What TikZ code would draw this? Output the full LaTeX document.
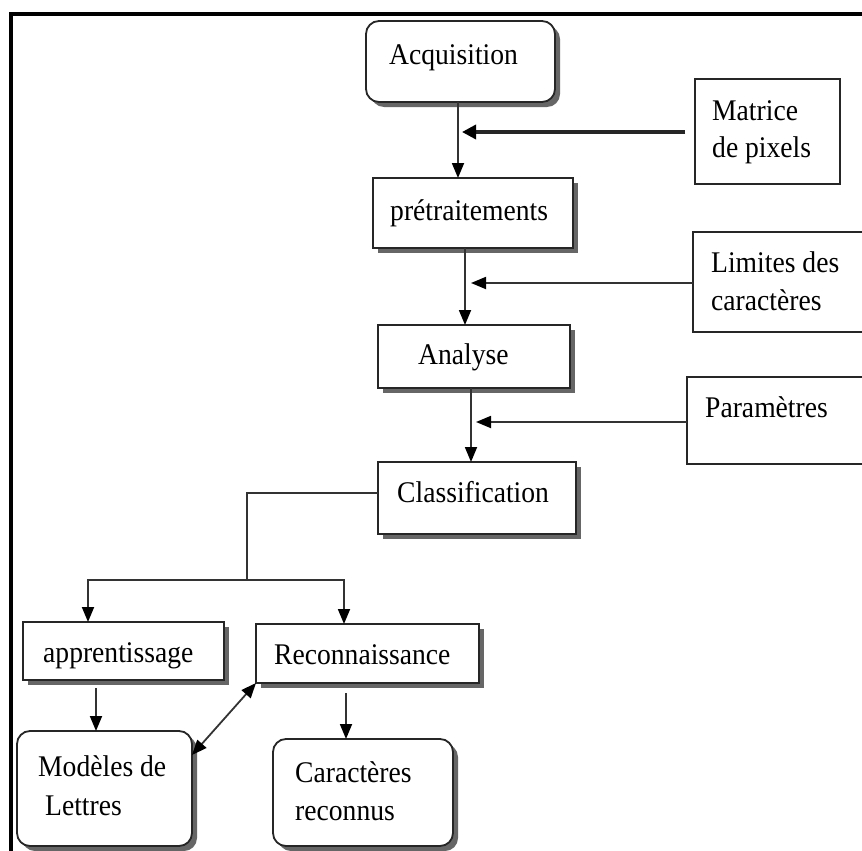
\documentclass[tikz,border=0pt]{standalone}
\usepackage{fontspec}
\setmainfont{Liberation Serif}[FakeStretch=0.92]
\usetikzlibrary{arrows.meta,shadows}
\begin{document}
\begin{tikzpicture}[x=1pt,y=-1pt,
  box/.style={draw=black!85, line width=1.8pt, fill=white, inner sep=0pt, outer sep=0pt},
  sbox/.style={box, drop shadow={shadow xshift=5pt, shadow yshift=-5pt, fill=black!60, opacity=1}},
  rbox/.style={sbox, rounded corners=13pt},
  txt/.style={anchor=base west, inner sep=0pt, font=\fontsize{30}{38}\selectfont},
  tip/.style={Triangle[length=15pt,width=12pt,color=black]},
  conn/.style={draw=black!80, line width=1.8pt, -{Triangle[length=15pt,width=12pt,color=black]}},
  plain/.style={draw=black!80, line width=1.8pt},
]
\path[use as bounding box] (0,0) rectangle (862,851);
\fill[white] (0,0) rectangle (862,851);
\begin{scope}
\clip (0,0) rectangle (862,851);
% frame
\draw[line width=3.5pt, line cap=rect] (11,851) -- (11,14) -- (862,14);

% boxes
\node[rbox, minimum width=189pt, minimum height=81pt] (acq) at (460.5,61.5) {};
\node[sbox, minimum width=200pt, minimum height=70pt] (pre) at (473,213) {};
\node[box,  minimum width=145pt, minimum height=105pt] (mat) at (767.5,131.5) {};
\node[box,  minimum width=207pt, minimum height=100pt] (lim) at (796.5,282) {};
\node[sbox, minimum width=192pt, minimum height=63pt] (ana) at (474,356.5) {};
\node[box,  minimum width=213pt, minimum height=87pt] (par) at (793.5,420.5) {};
\node[sbox, minimum width=198pt, minimum height=72pt] (cls) at (477,498) {};
\node[sbox, minimum width=201pt, minimum height=58pt] (app) at (123.5,651) {};
\node[sbox, minimum width=223pt, minimum height=59pt] (rec) at (367.5,653.5) {};
\node[rbox, minimum width=175pt, minimum height=115pt] (mod) at (104.5,788.5) {};
\node[rbox, minimum width=180pt, minimum height=107pt] (car) at (363,792.5) {};

% texts
\node[txt] (tacq) at (389,65) {Acquisition};
\node[txt] (tmat1) at (712,120) {Matrice};
\node[txt] (tmat2) at (712,157) {de pixels};
\node[txt] (tpre) at (390,220) {prétraitements};
\node[txt] (tlim1) at (711,272) {Limites des};
\node[txt] (tlim2) at (711,310) {caractères};
\node[txt] (tana) at (418,364) {Analyse};
\node[txt] (tpar) at (705,417) {Paramètres};
\node[txt] (tcls) at (397,502) {Classification};
\node[txt] (tapp) at (43,662) {apprentissage};
\node[txt] (trec) at (274,664) {Reconnaissance};
\node[txt] (tmod1) at (38,776) {Modèles de};
\node[txt] (tmod2) at (45,815) {Lettres};
\node[txt] (tcar1) at (295,782) {Caractères};
\node[txt] (tcar2) at (295,820) {reconnus};

% junction coordinates
\coordinate (j1) at (458,132);
\coordinate (j2) at (465,283);
\coordinate (j3) at (471,422);
\coordinate (b0) at (247,493);
\coordinate (b1) at (247,580);
\coordinate (bl) at (88,580);
\coordinate (br) at (344,580);
\coordinate (am) at (96,700);
\coordinate (rc) at (346,700);
\coordinate (dm) at (0,755);

% main chain
\draw[conn] (acq.south -| j1) -- (pre.north -| j1);
\draw[draw=black!85, line width=3.3pt, -{Triangle[length=14pt,width=14pt,color=black]}] ([xshift=-10pt]mat.west |- j1) -- ([xshift=4pt]j1);
\draw[conn] (pre.south -| j2) -- (ana.north -| j2);
\draw[conn] (lim.west |- j2) -- ([xshift=6pt]j2);
\draw[conn] (ana.south -| j3) -- (cls.north -| j3);
\draw[conn] (par.west |- j3) -- ([xshift=5pt]j3);

% branches
\draw[plain] (cls.west |- b0) -- (b0) -- (b1);
\draw[conn] (b1) -- (bl) -- (app.north -| bl);
\draw[conn] (b1) -- (br) -- (rec.north -| br);
\draw[conn] ([yshift=-8pt]app.south -| am) -- (mod.north -| am);
\draw[conn] ([yshift=-10pt]rec.south -| rc) -- (car.north -| rc);
\draw[plain, {Triangle[length=15pt,width=12pt,color=black]}-{Triangle[length=15pt,width=12pt,color=black]}] (rec.south west) -- (mod.east |- dm);
\end{scope}
\end{tikzpicture}
\end{document}
